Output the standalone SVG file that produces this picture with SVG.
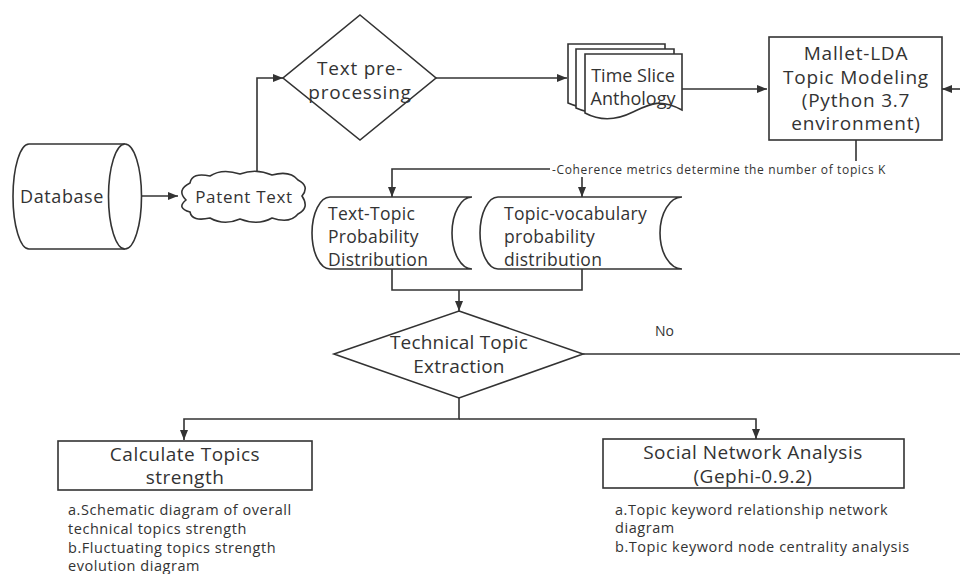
<svg xmlns="http://www.w3.org/2000/svg" width="960" height="574" viewBox="0 0 960 574">
<defs>
<marker id="ah" viewBox="0 0 10 10" refX="10" refY="5" markerWidth="10" markerHeight="10" markerUnits="userSpaceOnUse" orient="auto">
<path d="M0,1 L10,5 L0,9 Z" fill="#333"/>
</marker>
<style>
.s{fill:#fff;stroke:#333;stroke-width:1.6}
.c{fill:none;stroke:#333;stroke-width:1.6}
.t{font-family:"Open Sans","Noto Sans",sans-serif;fill:#333}
.l{font-size:19px;letter-spacing:0.5px}
.w{font-size:19px;letter-spacing:0.8px}
.m{font-size:17.5px;letter-spacing:0.3px}
.n{font-size:14.5px;letter-spacing:0.55px}
</style>
</defs>
<rect width="960" height="574" fill="#fff"/>
<g id="connectors">
<path class="c" d="M141,196 H178" marker-end="url(#ah)"/>
<path class="c" d="M257,172 V78 H283" marker-end="url(#ah)"/>
<path class="c" d="M436,78 H567" marker-end="url(#ah)"/>
<path class="c" d="M682,89 H767" marker-end="url(#ah)"/>
<path class="c" d="M960,89 H942" marker-end="url(#ah)"/>
<path class="c" d="M856,140 V169 H392 V197" marker-end="url(#ah)"/>
<path class="c" d="M582,169 V197" marker-end="url(#ah)"/>
<path class="c" d="M392,269 V290 H582 V269"/>
<path class="c" d="M459,290 V311" marker-end="url(#ah)"/>
<path class="c" d="M583,354 H960"/>
<path class="c" d="M459,398 V419 H184 V440" marker-end="url(#ah)"/>
<path class="c" d="M459,419 H756 V439" marker-end="url(#ah)"/>
<rect x="550" y="161" width="338" height="16" fill="#fff"/>
<text class="t" x="552" y="174" font-size="12" letter-spacing="0.65">-Coherence metrics determine the number of topics K</text>
<text class="t" x="655" y="336" font-size="14">No</text>
</g>
<g id="database">
<path class="s" d="M125,144 H29 A16,52.5 0 0 0 29,249 H125"/>
<ellipse class="s" cx="125" cy="196.5" rx="16.5" ry="52.5"/>
<text class="t" x="20" y="203" font-size="18" letter-spacing="0.6">Database</text>
</g>
<g id="patent-text">
<path class="s" d="M186,200 Q176,190 190,183 Q192,172 210,176 Q222,168 240,174 Q256,168 272,175 Q290,170 298,180 Q310,186 302,196 Q310,208 298,214 Q290,224 272,218 Q258,226 240,219 Q224,226 210,218 Q192,222 190,212 Q176,208 186,200 Z"/>
<text class="t" x="244" y="203" font-size="17" letter-spacing="0.7" text-anchor="middle">Patent Text</text>
</g>
<g id="text-preprocessing">
<path class="s" d="M360,15 L436,78 L360,140 L283,78 Z"/>
<text class="t w" x="360" y="75" text-anchor="middle">Text pre-</text>
<text class="t w" x="360" y="99" text-anchor="middle">processing</text>
</g>
<g id="time-slice">
<path class="s" d="M568,44 H665 V100 C643,88 633,94 616,102 C598,110 584,110 568,103 Z"/>
<path class="s" d="M576,49 H674 V105 C652,93 642,99 625,107 C607,115 592,115 576,108 Z"/>
<path class="s" d="M585,54 H682 V110 C660,98 650,104 633,112 C615,121 600,121 585,113 Z"/>
<text class="t" x="633" y="82" font-size="18" text-anchor="middle">Time Slice</text>
<text class="t" x="633" y="105" font-size="18" text-anchor="middle">Anthology</text>
</g>
<g id="mallet-lda">
<rect class="s" x="769" y="37" width="173" height="103"/>
<text class="t w" x="856" y="60" text-anchor="middle">Mallet-LDA</text>
<text class="t w" x="856" y="84" text-anchor="middle">Topic Modeling</text>
<text class="t w" x="856" y="107" text-anchor="middle">(Python 3.7</text>
<text class="t w" x="856" y="130" text-anchor="middle">environment)</text>
</g>
<g id="text-topic">
<path class="s" d="M330,197 H472 A20,36 0 0 0 472,269 H330 A18,36 0 0 1 330,197 Z"/>
<text class="t m" x="328" y="220">Text-Topic</text>
<text class="t m" x="328" y="243">Probability</text>
<text class="t m" x="328" y="266">Distribution</text>
</g>
<g id="topic-vocabulary">
<path class="s" d="M498,197 H682 A22,36 0 0 0 682,269 H498 A18,36 0 0 1 498,197 Z"/>
<text class="t m" x="504" y="220">Topic-vocabulary</text>
<text class="t m" x="504" y="243">probability</text>
<text class="t m" x="504" y="266">distribution</text>
</g>
<g id="technical-topic">
<path class="s" d="M459,311 L583,354 L459,398 L334,354 Z"/>
<text class="t" x="459" y="349" font-size="19" letter-spacing="0.2" text-anchor="middle">Technical Topic</text>
<text class="t" x="459" y="373" font-size="19" letter-spacing="0.2" text-anchor="middle">Extraction</text>
</g>
<g id="calculate">
<rect class="s" x="58" y="441" width="254" height="49"/>
<text class="t l" x="185" y="461" text-anchor="middle">Calculate Topics</text>
<text class="t l" x="185" y="484" text-anchor="middle">strength</text>
<text class="t n" x="68" y="515">a.Schematic diagram of overall</text>
<text class="t n" x="68" y="534">technical topics strength</text>
<text class="t n" x="68" y="553">b.Fluctuating topics strength</text>
<text class="t n" x="68" y="571">evolution diagram</text>
</g>
<g id="sna">
<rect class="s" x="603" y="439" width="301" height="49"/>
<text class="t l" x="753" y="459" text-anchor="middle">Social Network Analysis</text>
<text class="t l" x="753" y="483" text-anchor="middle">(Gephi-0.9.2)</text>
<text class="t n" x="615" y="515">a.Topic keyword relationship network</text>
<text class="t n" x="615" y="533">diagram</text>
<text class="t n" x="615" y="552">b.Topic keyword node centrality analysis</text>
</g>
</svg>
